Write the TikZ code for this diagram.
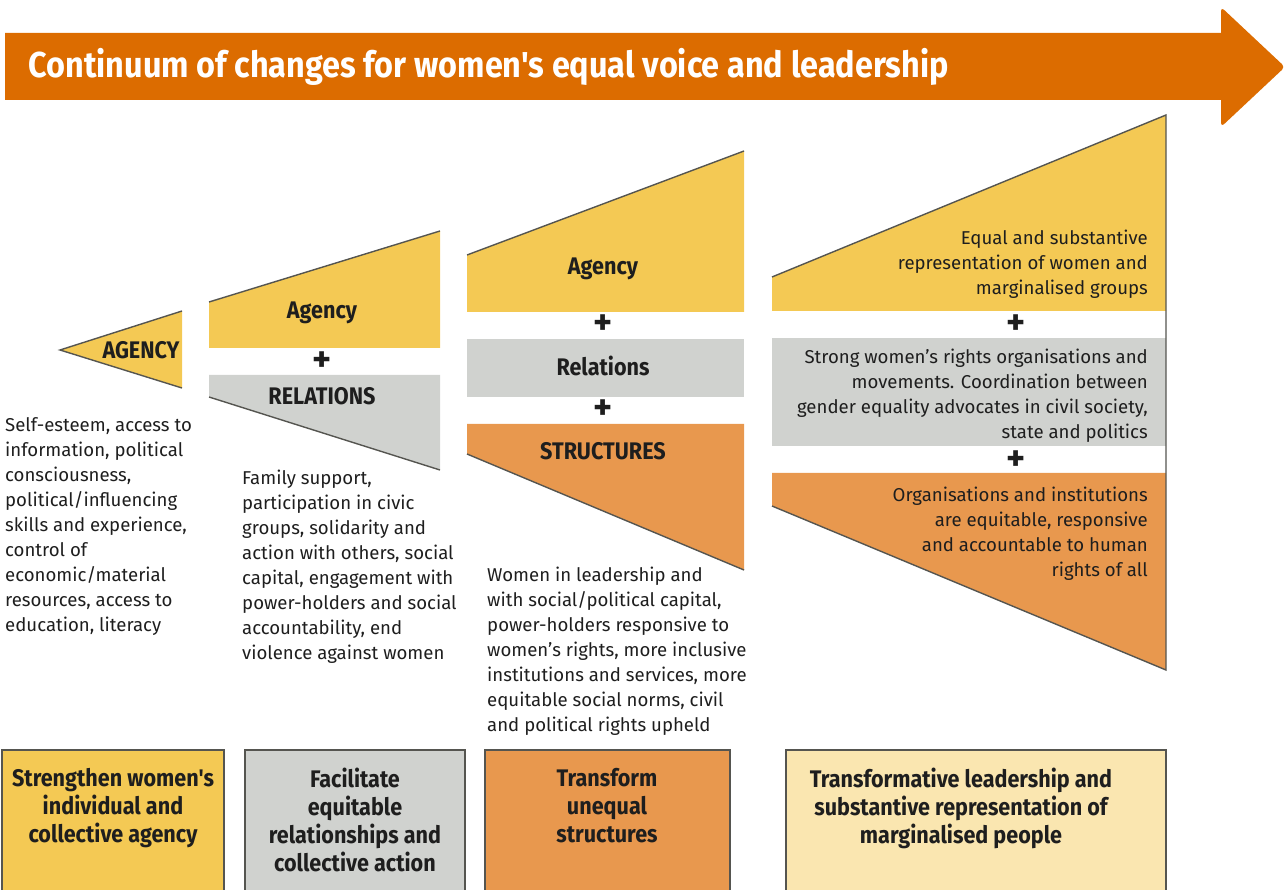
\documentclass[tikz,border=0pt]{standalone}
\usepackage{fontspec}
\setmainfont{Fira Sans}
\newfontfamily\condfont{Fira Sans}[FakeStretch=0.9]
\newcommand{\sq}{\char"27\relax}
\definecolor{carrow}{RGB}{220,108,0}
\definecolor{cagency}{RGB}{244,201,84}
\definecolor{crel}{RGB}{208,210,207}
\definecolor{cstruct}{RGB}{232,152,78}
\definecolor{clead}{RGB}{250,230,176}
\definecolor{cedge}{RGB}{85,85,80}
\definecolor{ctext}{RGB}{30,30,30}

\begin{document}
\begin{tikzpicture}[x=1pt,y=-1pt,
   edge/.style={draw=cedge,line width=1.4pt},
   head/.style={font=\condfont\bfseries\fontsize{24}{26}\selectfont,text=ctext},
   plus/.style={font=\bfseries\fontsize{36}{36}\selectfont,text=ctext},
   desc/.style={font=\fontsize{18.6}{25}\selectfont,align=left,anchor=north west,inner sep=0pt,text=ctext},
   rdesc/.style={font=\fontsize{18.6}{25}\selectfont,align=right,anchor=north east,inner sep=0pt,text=ctext},
   goal/.style={font=\condfont\bfseries\fontsize{24}{28}\selectfont,align=center,anchor=north,inner sep=0pt,text=ctext},
   goalbox/.style={draw=cedge,line width=1.4pt}]
  \useasboundingbox (0,0) rectangle (1286,890);
  % continuum arrow
  \fill[carrow] (5,33) -- (1221,33) [rounded corners=4pt] -- (1221,7) -- (1285,67) -- (1221,127) [sharp corners] -- (1221,100) -- (5,100) -- cycle;
  \node[anchor=west,text=white,font=\condfont\bfseries\fontsize{36}{40}\selectfont] (title) at (25,67)
    {Continuum of changes for women\sq s equal voice and leadership};

  % agency
  \fill[cagency] (60,350) -- (182,311) -- (182,388) -- cycle;
  \draw[edge] (182,311) -- (60,350) -- (182,388);
  \node[head] (ag1) at (141,350) {AGENCY};

  % agency + relations
  \fill[cagency] (209,302) -- (440,231) -- (440,348) -- (209,348) -- cycle;
  \draw[edge] (209,302) -- (440,231);
  \fill[crel] (209,375) -- (440,375) -- (440,470) -- (209,397) -- cycle;
  \draw[edge] (209,397) -- (440,470);
  \node[head] (ag2) at (322,313) {Agency};
  \node[plus] (p2) at (322,362) {+};
  \node[head] (rel2) at (322,396) {RELATIONS};

  % agency + relations + structures
  \fill[cagency] (467,255) -- (744,151) -- (744,312) -- (467,312) -- cycle;
  \draw[edge] (467,255) -- (744,151);
  \fill[crel] (467,339) rectangle (744,397);
  \fill[cstruct] (467,424) -- (744,424) -- (744,570) -- (467,454) -- cycle;
  \draw[edge] (467,454) -- (744,570);
  \node[head] (ag3) at (603,269) {Agency};
  \node[plus] (p3a) at (603,325) {+};
  \node[head] (rel3) at (603,366) {Relations};
  \node[plus] (p3b) at (603,410) {+};
  \node[head] (str3) at (603,451) {STRUCTURES};

  % leadership
  \fill[cagency] (772,277) -- (1166,115) -- (1166,311) -- (772,311) -- cycle;
  \fill[crel] (772,338) rectangle (1166,446);
  \fill[cstruct] (772,473) -- (1166,473) -- (1166,670) -- (772,506) -- cycle;
  \draw[edge] (772,277) -- (1166,115) -- (1166,670) -- (772,506);
  \node[plus] (p4a) at (1016,325) {+};
  \node[plus] (p4b) at (1016,461) {+};
  \node[rdesc] (lead1) at (1148,230)
    {Equal and substantive\\representation of women and\\marginalised groups};
  \node[rdesc] (lead2) at (1148,349)
    {Strong women\sq s rights organisations and\\movements. Coordination between\\gender equality advocates in civil society,\\state and politics};
  \node[rdesc] (lead3) at (1148,487)
    {Organisations and institutions\\are equitable, responsive\\and accountable to human\\rights of all};

  % descriptions
  \node[desc] (d1) at (5,417)
    {Self-esteem, access to\\information, political\\consciousness,\\political/influencing\\skills and experience,\\control of\\economic/material\\resources, access to\\education, literacy};
  \node[desc] (d2) at (242,470)
    {Family support,\\participation in civic\\groups, solidarity and\\action with others, social\\capital, engagement with\\power-holders and social\\accountability, end\\violence against women};
  \node[desc] (d3) at (487,567)
    {Women in leadership and\\with social/political capital,\\power-holders responsive to\\women's rights, more inclusive\\institutions and services, more\\equitable social norms, civil\\and political rights upheld};

  % goals
  \draw[goalbox,fill=cagency] (2,750) rectangle (224,900);
  \draw[goalbox,fill=crel] (245,750) rectangle (465,900);
  \draw[goalbox,fill=cstruct] (485,750) rectangle (730,900);
  \draw[goalbox,fill=clead] (786,750) rectangle (1166,900);
  \node[goal] (g1) at (113,768) {Strengthen women's\\individual and\\collective agency};
  \node[goal] (g2) at (355,768) {Facilitate\\equitable\\relationships and\\collective action};
  \node[goal] (g3) at (607,768) {Transform\\unequal\\structures};
  \node[goal] (g4) at (961,768) {Transformative leadership and\\substantive representation of\\marginalised people};
\end{tikzpicture}
\end{document}
